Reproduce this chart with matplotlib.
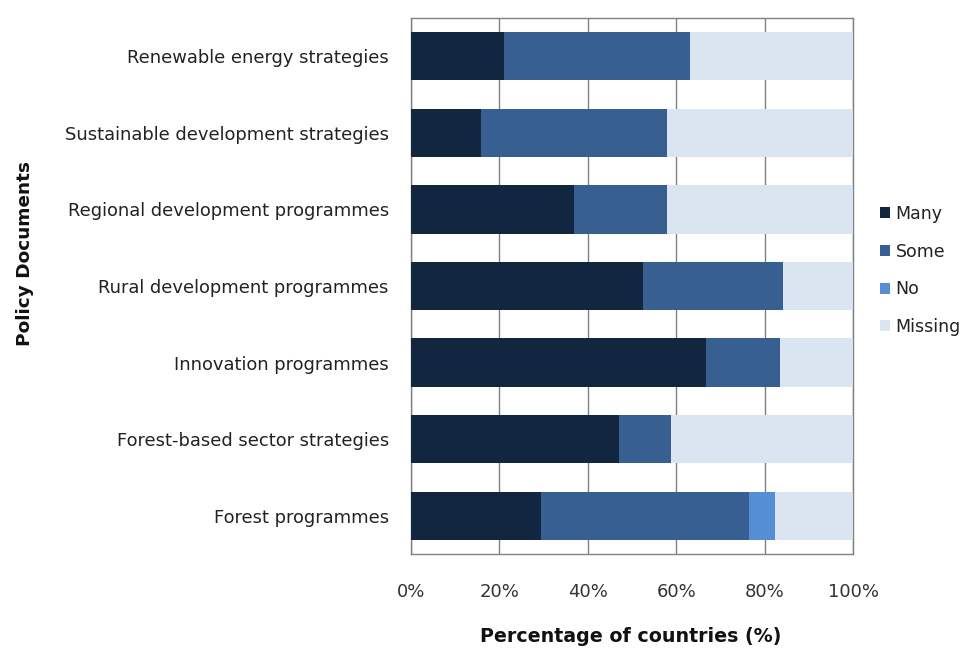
import matplotlib
matplotlib.use("Agg")
import matplotlib.pyplot as plt
import numpy as np

categories = ["Renewable energy strategies", "Sustainable development strategies",
              "Regional development programmes", "Rural development programmes",
              "Innovation programmes", "Forest-based sector strategies", "Forest programmes"]
many = [21.1, 15.8, 36.8, 52.6, 66.7, 47.1, 29.4]
some = [42.1, 42.1, 21.1, 31.6, 16.7, 11.8, 47.1]
no = [0, 0, 0, 0, 0, 0, 5.9]
missing = [36.8, 42.1, 42.1, 15.8, 16.6, 41.1, 17.6]
series_names = ["Many", "Some", "No", "Missing"]
colors = ["#13263f", "#375f92", "#558ed5", "#dbe5f1"]
xticks = [0, 20, 40, 60, 80, 100]

plt.rcParams['font.family'] = ['DejaVu Sans']
fig = plt.figure(figsize=(9.71, 6.49), dpi=100)
ax = fig.add_axes([411/971, 1-554/649, (853-411)/971, (554-18)/649])

y = np.arange(len(categories))[::-1]
left = np.zeros(len(categories))
for name, vals, c in zip(series_names, [many, some, no, missing], colors):
    vals = np.array(vals)
    ax.barh(y, vals, left=left, height=0.63, color=c, label=name, zorder=3)
    left += vals

ax.set_xlim(0, 100)
ax.set_ylim(-0.5, len(categories) - 0.5)
ax.set_xticks(xticks)
ax.set_xticklabels([f"{t}%" for t in xticks], fontsize=13, color="#333333")
ax.set_yticks(y)
ax.set_yticklabels(categories, fontsize=12.9, color="#222222")
ax.tick_params(axis='x', length=0, pad=21)
ax.tick_params(axis='y', length=0, pad=16)
ax.xaxis.grid(True, color="#808080", linewidth=1, zorder=0)
for s in ax.spines.values():
    s.set_color("#808080")
    s.set_linewidth(1)

fig.text(631/971, 1-636/649, "Percentage of countries (%)", ha='center', va='center',
         fontsize=13.7, fontweight='bold', color="#111111")
fig.text(25/971, 1-254/649, "Policy Documents", ha='center', va='center', rotation=90,
         fontsize=13.3, fontweight='bold', color="#111111")

handles, labels = ax.get_legend_handles_labels()
leg = fig.legend(handles, labels, loc='upper left', bbox_to_anchor=(873/971, 1-198/649),
                 frameon=False, fontsize=12.5, handlelength=0.6, handleheight=0.6,
                 handletextpad=0.3, labelspacing=1.13, borderaxespad=0)
for t in leg.get_texts():
    t.set_color("#222222")

fig.savefig("out.png", dpi=100)
